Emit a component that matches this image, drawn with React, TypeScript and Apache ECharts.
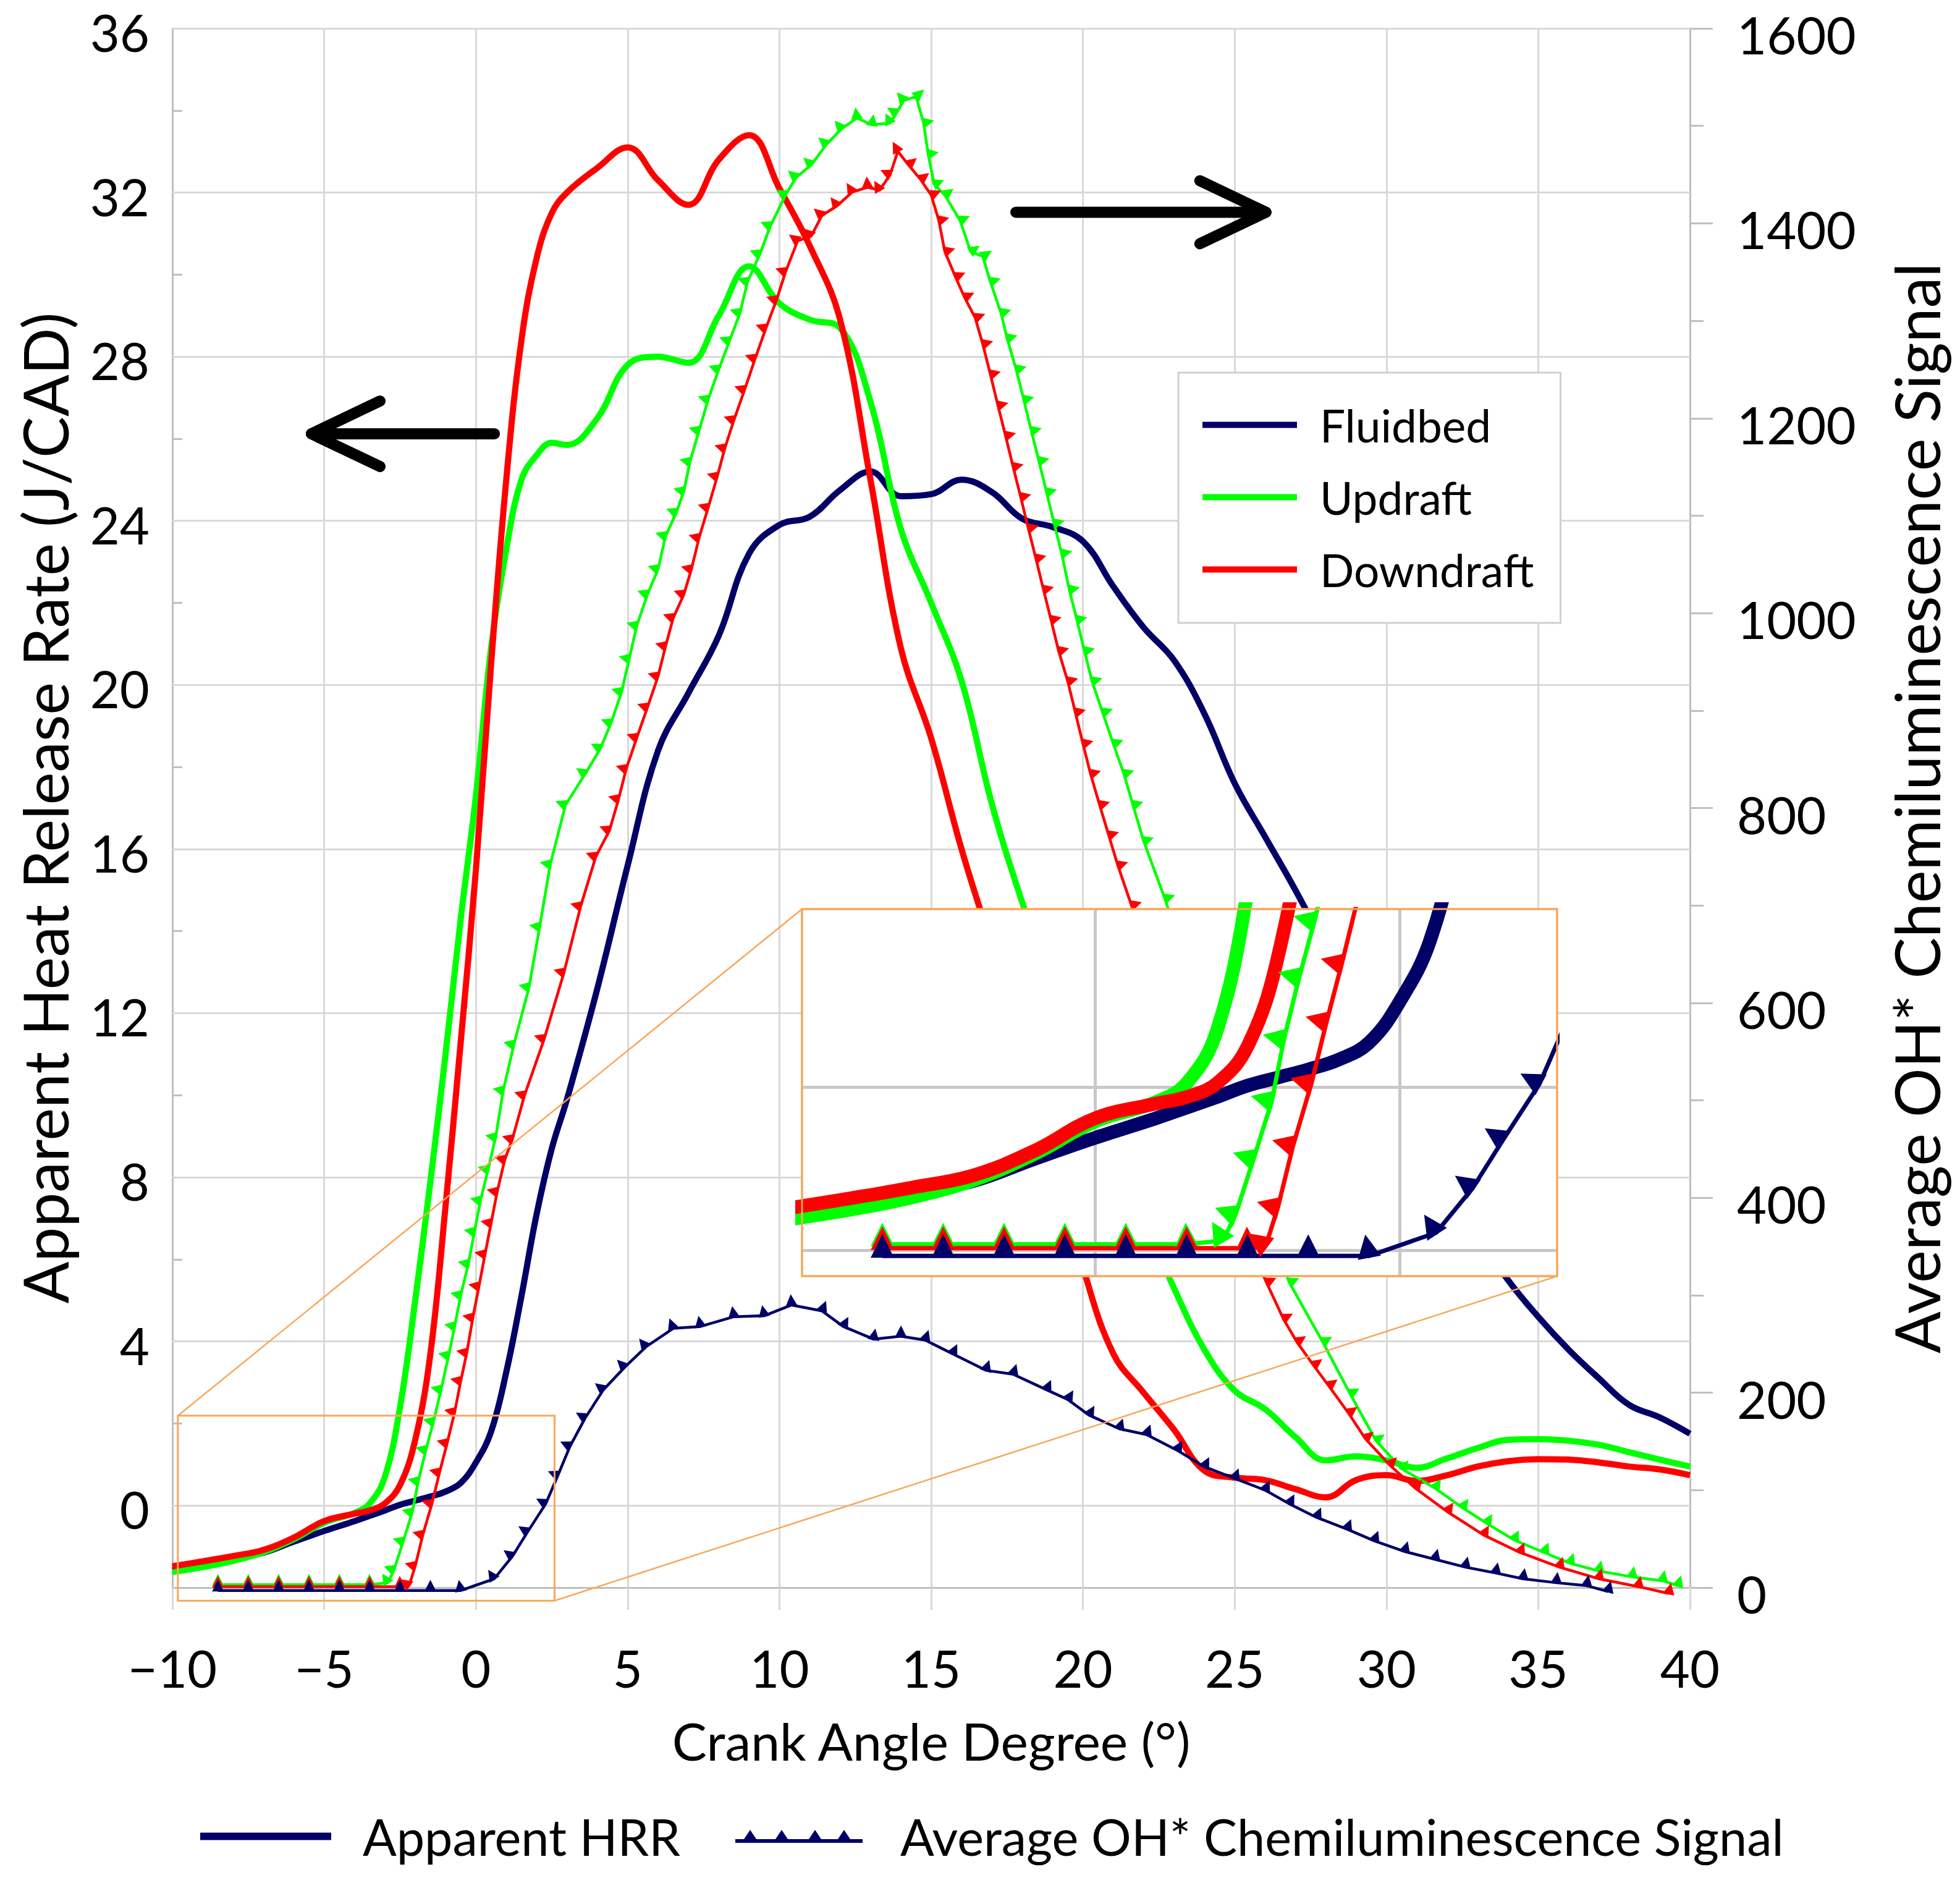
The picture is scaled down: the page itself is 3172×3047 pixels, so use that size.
import React, { useEffect, useRef } from "react";
import * as echarts from "echarts";

const W = 3172;
const H = 3047;
const FONT = "Lato";
const NAVY = "#000066";
const GREEN = "#00ff00";
const RED = "#ff0000";
const GRID_C = "#d9d9d9";
const AXIS_C = "#bfbfbf";
const ORANGE = "#f9a65a";

// axes
const X_MIN = -10;
const X_MAX = 40;
const X_STEP = 5;
const HRR_MIN = -2;
const HRR_MAX = 36;
const HRR_TICK_STEP = 2;
const HRR_LABEL_STEP = 4;
const HRR_GRID_VALUES = [0, 4, 8, 12, 16, 20, 24, 28, 32, 36];
const OH_MIN = 0;
const OH_MAX = 1600;
const OH_STEP = 200;

// inset (zoom window, in data units of the main chart)
const ZOOM_X = [-9.82, 2.59];
const ZOOM_HRR = [-2.32, 2.19];
const INSET_GRID_X = [-5, 0];
const INSET_GRID_HRR = [0, -2];

// arrows (data coords of the main chart)
const ARROW_LEFT = { tip: [-5.42, 26.12], tail: [0.61, 26.12] };
const ARROW_RIGHT = { tip: [26.03, 31.52], tail: [17.79, 31.52] };

// ---------- Apparent heat release rate (J/CAD) ----------
const HRR_CAD = [
  -10, -9, -8, -7, -6, -5, -4,
  -3.5, -3, -2.5, -2, -1.5, -1, -0.5, 0, 0.5, 1, 1.5, 2, 2.5, 3,
  4, 5, 6, 7, 8, 9, 10, 11, 12, 13,
  14, 15, 16, 17, 18, 19, 20, 21, 22, 23,
  24, 25, 26, 27, 28, 29, 30, 31, 32, 33,
  34, 35, 36, 37, 38, 39, 40,
];
const FLUIDBED_HRR = [
  -1.58, -1.45, -1.3, -1.15, -0.88, -0.62, -0.38,
  -0.25, -0.12, 0.02, 0.12, 0.22, 0.34, 0.55, 1.05, 1.8, 3.25, 5.1, 7.1, 8.7, 9.9,
  12.6, 15.6, 18.4, 19.8, 21.2, 23.2, 23.9, 24.1, 24.75, 25.2,
  24.6, 24.65, 25.0, 24.7, 24.05, 23.85, 23.5, 22.4, 21.4, 20.6,
  19.3, 17.6, 16.3, 15.0, 13.6, 12.2, 10.8, 9.4, 8.0, 6.6,
  5.5, 4.6, 3.8, 3.1, 2.45, 2.15, 1.75,
];
const UPDRAFT_HRR = [
  -1.62, -1.5, -1.35, -1.14, -0.82, -0.42, -0.18,
  0.05, 0.7, 2.4, 5.0, 7.9, 11.0, 14.3, 17.3, 20.9, 23.3, 25.0, 25.6, 25.9, 25.85,
  26.5, 27.8, 28.0, 27.85, 29.0, 30.2, 29.3, 28.9, 28.7, 26.9,
  23.8, 22.0, 20.1, 17.1, 14.7, 12.6, 10.6, 8.8, 7.0, 5.3,
  3.8, 2.8, 2.35, 1.67, 1.1, 1.2, 1.1, 0.92, 1.15, 1.4,
  1.6, 1.62, 1.58, 1.48, 1.3, 1.12, 0.95,
];
const DOWNDRAFT_HRR = [
  -1.48, -1.36, -1.23, -1.08, -0.78, -0.38, -0.2,
  -0.12, 0.05, 0.5, 1.6, 3.7, 7.3, 11.3, 15.5, 20.5, 25.0, 28.4, 30.4, 31.5, 32.0,
  32.6, 33.1, 32.3, 31.7, 32.8, 33.4, 32.1, 30.7, 28.9, 25.0,
  20.9, 18.7, 16.0, 13.6, 11.0, 8.4, 5.8, 3.7, 2.75, 1.85,
  0.85, 0.68, 0.62, 0.4, 0.2, 0.62, 0.74, 0.6, 0.74, 0.95,
  1.08, 1.13, 1.12, 1.05, 0.95, 0.88, 0.74,
];

// ---------- Average OH* chemiluminescence signal (marker positions) ----------
const FLUIDBED_OH_CAD = [
  -8.5, -7.5, -6.5, -5.5, -4.5, -3.5, -2.5, -1.5, -0.5,
  0.6, 1.2, 1.7, 2.3, 2.7, 3.1, 3.6, 4.2, 4.9, 5.6, 6.5, 7.4, 8.5, 9.5,
  10.4, 11.4, 12.1, 13.1, 14.0, 14.8, 15.7, 16.8, 17.7, 18.8, 19.5, 20.2,
  21.2, 22.1, 23.1, 24.0, 25.0, 26.0, 26.8, 27.7, 28.7, 29.6, 30.6, 31.6,
  32.6, 33.6, 34.5, 35.6, 36.6, 37.3,
];
const FLUIDBED_OH = [
  -3, -3, -3, -3, -3, -3, -3, -3, -3,
  9, 32, 57, 86, 115, 145, 174, 203, 226, 247, 266, 268, 278, 279,
  290, 284, 268, 255, 258, 254, 240, 223, 219, 203, 193, 177,
  163, 157, 141, 124, 112, 100, 86, 72, 60, 48, 37, 29,
  21, 15, 9, 5, 2, -4,
];
const UPDRAFT_OH_CAD = [
  -8.5, -7.5, -6.5, -5.5, -4.5, -3.5, -2.9, -2.7, -2.4, -2.1,
  -1.9, -1.65, -1.4, -1.15, -0.9, -0.7, -0.5, -0.25, -0.05, 0.15,
  0.4, 0.65, 0.9, 1.25, 1.75, 2.1, 2.45, 2.95, 3.6, 4.1,
  4.45, 4.8, 5.05, 5.3, 5.65, 6.0, 6.25, 6.6, 6.85, 7.05,
  7.35, 7.65, 8.0, 8.35, 8.7, 8.95, 9.35, 9.7, 10.2, 10.55,
  11.05, 11.55, 12.05, 12.55, 13.05, 13.65, 13.85, 14.1, 14.5, 14.75,
  14.9, 15.1, 15.45, 15.95, 16.3, 16.7, 16.95, 17.3, 17.5, 17.8,
  18.05, 18.3, 18.55, 18.8, 19.05, 19.3, 19.55, 19.8, 20.05, 20.3,
  20.65, 21.0, 21.35, 21.65, 22.0, 22.7, 23.5, 24.3, 25.1, 25.9,
  26.8, 27.9, 28.8, 29.65, 30.5, 31.6, 32.5, 33.3, 34.2, 35.2,
  36.05, 37.0, 38.1, 39.1, 39.6,
];
const UPDRAFT_OH = [
  3, 3, 3, 3, 3, 3, 5, 18, 47, 77,
  109, 141, 170, 203, 238, 268, 300, 332, 365, 397,
  429, 462, 510, 557, 616, 678, 742, 803, 835, 861,
  887, 919, 953, 987, 1019, 1045, 1079, 1103, 1125, 1155,
  1187, 1219, 1250, 1279, 1308, 1340, 1368, 1397, 1429, 1447,
  1460, 1481, 1497, 1508, 1501, 1503, 1513, 1526, 1530, 1503,
  1471, 1440, 1429, 1403, 1371, 1366, 1340, 1308, 1282, 1250,
  1219, 1187, 1156, 1124, 1092, 1061, 1024, 993, 961, 930,
  898, 866, 835, 803, 766, 707, 630, 550, 470, 390,
  313, 252, 199, 151, 122, 102, 82, 66, 49, 36,
  25, 17, 11, 7, 2,
];
const DOWNDRAFT_OH_CAD = [
  -8.5, -7.5, -6.5, -5.5, -4.5, -3.5, -2.5, -2.2, -2.0, -1.75,
  -1.45, -1.2, -0.95, -0.7, -0.5, -0.3, -0.1, 0.1, 0.3, 0.5,
  0.7, 0.95, 1.2, 1.6, 2.25, 2.9, 3.45, 3.95, 4.4, 4.7,
  4.95, 5.3, 5.65, 6.0, 6.25, 6.5, 6.85, 7.1, 7.35, 7.65,
  7.95, 8.2, 8.5, 8.85, 9.2, 9.55, 9.9, 10.2, 10.6, 11.05,
  11.4, 11.9, 12.4, 12.9, 13.3, 13.65, 13.9, 14.25, 14.65, 15.0,
  15.25, 15.45, 15.8, 16.1, 16.45, 16.7, 16.95, 17.2, 17.45, 17.7,
  17.95, 18.2, 18.45, 18.7, 18.95, 19.2, 19.5, 19.75, 20.0, 20.25,
  20.55, 20.85, 21.15, 21.6, 22.5, 23.4, 24.3, 25.2, 26.05, 26.6,
  27.05, 27.6, 28.1, 28.75, 29.3, 30.1, 30.95, 32.0, 33.2, 34.4,
  35.7, 37.0, 38.3, 39.3,
];
const DOWNDRAFT_OH = [
  1, 1, 1, 1, 1, 1, 1, 2, 22, 54,
  86, 118, 148, 180, 212, 241, 277, 309, 342, 374,
  406, 439, 460, 505, 563, 631, 699, 750, 777, 809,
  840, 872, 903, 935, 966, 995, 1019, 1045, 1077, 1108,
  1140, 1169, 1198, 1229, 1261, 1292, 1321, 1350, 1382, 1387,
  1408, 1418, 1432, 1437, 1434, 1450, 1474, 1460, 1445, 1429,
  1403, 1371, 1345, 1324, 1303, 1276, 1245, 1213, 1182, 1150,
  1119, 1087, 1056, 1024, 993, 961, 930, 898, 866, 835,
  803, 772, 741, 700, 610, 525, 445, 370, 313, 276,
  252, 228, 207, 179, 153, 126, 102, 78, 54, 36,
  21, 9, 1, -6,
];

// text
const SERIES_NAMES = ["Fluidbed", "Updraft", "Downdraft"];
const X_NAME = "Crank Angle Degree (°)";
const HRR_NAME = "Apparent Heat Release Rate (J/CAD)";
const OH_NAME = "Average OH* Chemiluminescence Signal";
const LEGEND_HRR = "Apparent HRR";
const LEGEND_OH = "Average OH* Chemiluminescence Signal";

// layout (pixels)
const MAIN = { left: 279, top: 46, width: 2456, height: 2523 };
const INSET = { left: 1298, top: 1471, width: 1222, height: 594 };

const ohFromHrr = (v: number) =>
  ((v - HRR_MIN) * (OH_MAX - OH_MIN)) / (HRR_MAX - HRR_MIN) + OH_MIN;

const PX_PER_X = MAIN.width / (X_MAX - X_MIN);
const PX_PER_OH = MAIN.height / (OH_MAX - OH_MIN);

function pairs(xs: number[], ys: number[]) {
  return xs.map((x, i) => [x, ys[i]]);
}

function ohItems(xs: number[], ys: number[], size: number) {
  return xs.map((x, i) => {
    const a = Math.max(0, i - 1);
    const b = Math.min(xs.length - 1, i + 1);
    const dx = (xs[b] - xs[a]) * PX_PER_X;
    const dy = (ys[b] - ys[a]) * PX_PER_OH;
    const th = Math.atan2(dy, dx);
    const off = size * 0.42;
    return {
      value: [x, ys[i]],
      symbolRotate: (th * 180) / Math.PI,
      symbolOffset: [-Math.sin(th) * off, -Math.cos(th) * off],
    };
  });
}

const COLORS = [NAVY, GREEN, RED];
const HRR_SETS = [FLUIDBED_HRR, UPDRAFT_HRR, DOWNDRAFT_HRR];
const OH_SETS: [number[], number[]][] = [
  [FLUIDBED_OH_CAD, FLUIDBED_OH],
  [UPDRAFT_OH_CAD, UPDRAFT_OH],
  [DOWNDRAFT_OH_CAD, DOWNDRAFT_OH],
];
const HRR_ORDER = [0, 1, 2];
const OH_ORDER = [1, 2, 0];

function buildOption(): any {
  const textBase = { fontFamily: FONT, color: "#000" };
  const series: any[] = [];

  // main horizontal grid lines
  series.push({
    type: "line",
    name: "grid-main",
    xAxisIndex: 0,
    yAxisIndex: 0,
    data: [],
    silent: true,
    markLine: {
      silent: true,
      z: 1,
      symbol: ["none", "none"],
      label: { show: false },
      lineStyle: { color: GRID_C, width: 3, type: "solid" },
      emphasis: { disabled: true },
      data: HRR_GRID_VALUES.map((v) => ({ yAxis: v })),
    },
  });

  // main HRR
  HRR_ORDER.forEach((k) => {
    series.push({
      type: "line",
      name: SERIES_NAMES[k],
      xAxisIndex: 0,
      yAxisIndex: 0,
      data: pairs(HRR_CAD, HRR_SETS[k]),
      smooth: 0.4,
      symbol: "none",
      color: COLORS[k],
      lineStyle: { width: 10, color: COLORS[k] },
      z: 2,
    });
  });
  // main OH
  OH_ORDER.forEach((k) => {
    series.push({
      type: "line",
      name: SERIES_NAMES[k] + " OH*",
      xAxisIndex: 0,
      yAxisIndex: 1,
      data: ohItems(OH_SETS[k][0], OH_SETS[k][1], 19),
      symbol: "triangle",
      symbolSize: 19,
      showSymbol: true,
      color: COLORS[k],
      itemStyle: { color: COLORS[k] },
      lineStyle: { width: 4.5, color: COLORS[k] },
      clip: false,
      z: 3,
    });
  });

  // legend-only series
  series.push({
    type: "line",
    name: LEGEND_HRR,
    xAxisIndex: 0,
    yAxisIndex: 0,
    data: [],
    color: NAVY,
    lineStyle: { width: 12, color: NAVY },
  });
  series.push({
    type: "line",
    name: LEGEND_OH,
    xAxisIndex: 0,
    yAxisIndex: 1,
    data: [],
    color: NAVY,
    lineStyle: { width: 6, color: NAVY },
  });

  // inset grid lines
  series.push({
    type: "line",
    name: "grid-inset",
    xAxisIndex: 1,
    yAxisIndex: 2,
    data: [],
    silent: true,
    z: 5,
    markLine: {
      silent: true,
      z: 5,
      symbol: ["none", "none"],
      label: { show: false },
      lineStyle: { color: "#c8c8c8", width: 5, type: "solid" },
      emphasis: { disabled: true },
      data: [
        ...INSET_GRID_X.map((x) => ({ xAxis: x })),
        ...INSET_GRID_HRR.map((v) => ({ yAxis: v })),
      ],
    },
  });
  // inset HRR
  HRR_ORDER.forEach((k) => {
    series.push({
      type: "line",
      name: "inset " + SERIES_NAMES[k],
      xAxisIndex: 1,
      yAxisIndex: 2,
      data: pairs(HRR_CAD, HRR_SETS[k]),
      smooth: 0.4,
      symbol: "none",
      color: COLORS[k],
      lineStyle: { width: 22, color: COLORS[k] },
      clip: true,
      z: 6,
    });
  });
  // inset OH
  OH_ORDER.forEach((k) => {
    series.push({
      type: "line",
      name: "inset " + SERIES_NAMES[k] + " OH*",
      xAxisIndex: 1,
      yAxisIndex: 3,
      data: ohItems(OH_SETS[k][0], OH_SETS[k][1], 38),
      symbol: "triangle",
      symbolSize: 38,
      showSymbol: true,
      color: COLORS[k],
      itemStyle: { color: COLORS[k] },
      lineStyle: { width: 7, color: COLORS[k] },
      clip: true,
      z: 7,
    });
  });

  return {
    animation: false,
    backgroundColor: "#fff",
    grid: [
      { left: MAIN.left, top: MAIN.top, width: MAIN.width, height: MAIN.height, containLabel: false },
      { left: INSET.left, top: INSET.top, width: INSET.width, height: INSET.height, containLabel: false },
    ],
    xAxis: [
      {
        type: "value",
        gridIndex: 0,
        min: X_MIN,
        max: X_MAX,
        interval: X_STEP,
        axisLine: { show: true, onZero: false, lineStyle: { color: AXIS_C, width: 3 } },
        axisTick: { show: true, inside: false, length: 36, lineStyle: { color: GRID_C, width: 3 } },
        axisLabel: {
          ...textBase,
          fontSize: 83,
          margin: 88,
          formatter: (v: number) => (v < 0 ? "\u2212" + Math.abs(v) : String(v)),
        },
        splitLine: { show: true, lineStyle: { color: GRID_C, width: 3 } },
        name: X_NAME,
        nameLocation: "middle",
        nameGap: 205,
        nameTextStyle: { ...textBase, fontSize: 84 },
      },
      {
        type: "value",
        gridIndex: 1,
        min: ZOOM_X[0],
        max: ZOOM_X[1],
        show: false,
      },
    ],
    yAxis: [
      {
        type: "value",
        gridIndex: 0,
        position: "left",
        min: HRR_MIN,
        max: HRR_MAX,
        interval: HRR_TICK_STEP,
        axisLine: { show: true, onZero: false, lineStyle: { color: AXIS_C, width: 3 } },
        axisTick: { show: true, inside: true, length: 16, lineStyle: { color: AXIS_C, width: 3 } },
        axisLabel: {
          ...textBase,
          fontSize: 83,
          verticalAlign: "top",
          lineHeight: 12,
          margin: 37,
          formatter: (v: number) => (v >= 0 && v % HRR_LABEL_STEP === 0 ? String(v) : ""),
        },
        splitLine: { show: false },
        name: HRR_NAME,
        nameLocation: "middle",
        nameGap: 157,
        nameTextStyle: { ...textBase, fontSize: 100 },
      },
      {
        type: "value",
        gridIndex: 0,
        position: "right",
        min: OH_MIN,
        max: OH_MAX,
        interval: OH_STEP,
        axisLine: { show: true, onZero: false, lineStyle: { color: AXIS_C, width: 3 } },
        axisTick: { show: true, inside: false, length: 37, lineStyle: { color: AXIS_C, width: 3 } },
        minorTick: { show: true, splitNumber: 2, length: 22, lineStyle: { color: AXIS_C, width: 3 } },
        axisLabel: {
          ...textBase,
          fontSize: 83,
          verticalAlign: "top",
          lineHeight: 20,
          margin: 76,
          formatter: (v: number) => String(v),
        },
        splitLine: { show: false },
        name: OH_NAME,
        nameLocation: "middle",
        nameGap: 316,
        nameTextStyle: { ...textBase, fontSize: 100 },
      },
      {
        type: "value",
        gridIndex: 1,
        min: ZOOM_HRR[0],
        max: ZOOM_HRR[1],
        show: false,
      },
      {
        type: "value",
        gridIndex: 1,
        min: ohFromHrr(ZOOM_HRR[0]),
        max: ohFromHrr(ZOOM_HRR[1]),
        show: false,
      },
    ],
    legend: [
      {
        data: SERIES_NAMES.map((n) => ({ name: n, icon: "path://M0,0L153,0L153,10L0,10Z" })),
        orient: "vertical",
        left: 1907,
        top: 603,
        padding: [48, 43, 50, 39],
        itemWidth: 153,
        itemHeight: 60,
        itemGap: 44,
        backgroundColor: "#fff",
        borderColor: "#d0d0d0",
        borderWidth: 3,
        selectedMode: false,
        itemStyle: { borderWidth: 0 },
        textStyle: { ...textBase, fontSize: 73, padding: [0, 0, 0, 32] },
        z: 8,
      },
      {
        data: [{ name: LEGEND_HRR, icon: "path://M0,0L212,0L212,12L0,12Z" }],
        left: 324,
        top: 2931,
        padding: 0,
        itemWidth: 212,
        itemHeight: 40,
        selectedMode: false,
        itemStyle: { borderWidth: 0 },
        textStyle: { ...textBase, fontSize: 81, padding: [0, 0, 0, 46] },
      },
      {
        data: [
          {
            name: LEGEND_OH,
            icon:
              "path://M0,15L206,15L206,21L0,21Z M14,15L24,0L34,15Z M65,15L75,0L85,15Z M119,15L129,0L139,15Z M166,15L176,0L186,15Z",
          },
        ],
        left: 1190,
        top: 2931,
        padding: 0,
        itemWidth: 206,
        itemHeight: 40,
        selectedMode: false,
        itemStyle: { borderWidth: 0 },
        textStyle: { ...textBase, fontSize: 81, padding: [0, 0, 0, 56] },
      },
    ],
    series,
  };
}

export default function App() {
  const ref = useRef<HTMLDivElement>(null);
  useEffect(() => {
    document.body.style.margin = "0";
    const el = ref.current as HTMLDivElement;
    const chart = echarts.init(el, null, { renderer: "svg", width: W, height: H });
    chart.setOption(buildOption());

    const p0 = (x: number, v: number) =>
      chart.convertToPixel({ xAxisIndex: 0, yAxisIndex: 0 } as any, [x, v]) as number[];
    const p1 = (x: number, v: number) =>
      chart.convertToPixel({ xAxisIndex: 1, yAxisIndex: 2 } as any, [x, v]) as number[];

    const a = p0(ZOOM_X[0], ZOOM_HRR[1]);
    const b = p0(ZOOM_X[1], ZOOM_HRR[0]);
    const c = p1(ZOOM_X[0], ZOOM_HRR[1]);
    const d = p1(ZOOM_X[1], ZOOM_HRR[0]);

    const lt = p0(ARROW_LEFT.tip[0], ARROW_LEFT.tip[1]);
    const ll = p0(ARROW_LEFT.tail[0], ARROW_LEFT.tail[1]);
    const rt = p0(ARROW_RIGHT.tip[0], ARROW_RIGHT.tip[1]);
    const rl = p0(ARROW_RIGHT.tail[0], ARROW_RIGHT.tail[1]);
    const arrowStyle = { stroke: "#000", lineWidth: 18, lineCap: "round", lineJoin: "round", fill: null };

    chart.setOption({
      graphic: {
        elements: [
          {
            type: "rect",
            z: 4,
            silent: true,
            shape: { x: c[0], y: c[1], width: d[0] - c[0], height: d[1] - c[1] },
            style: { fill: "#fff", stroke: ORANGE, lineWidth: 3 },
          },
          {
            type: "rect",
            z: 10,
            silent: true,
            shape: { x: c[0], y: c[1], width: d[0] - c[0], height: d[1] - c[1] },
            style: { fill: null, stroke: ORANGE, lineWidth: 3 },
          },
          {
            type: "rect",
            z: 4,
            silent: true,
            shape: { x: a[0], y: a[1], width: b[0] - a[0], height: b[1] - a[1] },
            style: { fill: null, stroke: ORANGE, lineWidth: 3 },
          },
          {
            type: "line",
            z: 4,
            silent: true,
            shape: { x1: a[0], y1: a[1], x2: c[0], y2: c[1] },
            style: { stroke: ORANGE, lineWidth: 2.5 },
          },
          {
            type: "line",
            z: 4,
            silent: true,
            shape: { x1: b[0], y1: b[1], x2: d[0], y2: d[1] },
            style: { stroke: ORANGE, lineWidth: 2.5 },
          },
          {
            type: "line",
            z: 4,
            silent: true,
            shape: { x1: lt[0], y1: lt[1], x2: ll[0], y2: ll[1] },
            style: arrowStyle,
          },
          {
            type: "polyline",
            z: 4,
            silent: true,
            shape: { points: [[lt[0] + 111, lt[1] - 53], [lt[0], lt[1]], [lt[0] + 111, lt[1] + 53]] },
            style: arrowStyle,
          },
          {
            type: "line",
            z: 4,
            silent: true,
            shape: { x1: rl[0], y1: rl[1], x2: rt[0], y2: rt[1] },
            style: arrowStyle,
          },
          {
            type: "polyline",
            z: 4,
            silent: true,
            shape: { points: [[rt[0] - 107, rt[1] - 51], [rt[0], rt[1]], [rt[0] - 107, rt[1] + 51]] },
            style: arrowStyle,
          },
        ],
      },
    });

    return () => chart.dispose();
  }, []);
  return <div ref={ref} style={{ width: W, height: H }} />;
}
